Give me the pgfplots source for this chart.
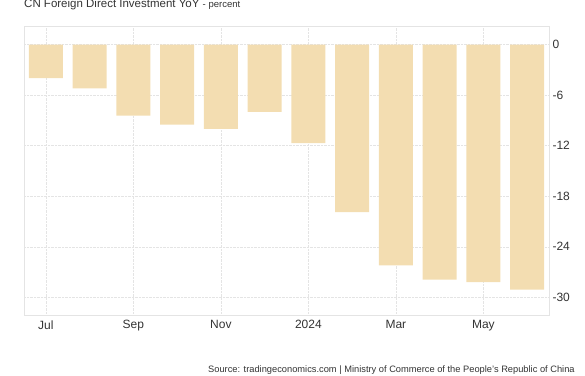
\documentclass[border=0pt]{standalone}
\usepackage{fontspec}
\setmainfont{Liberation Sans}
\usepackage{pgfplots}
\pgfplotsset{compat=1.18}
\definecolor{barc}{RGB}{243,221,177}
\definecolor{gridc}{RGB}{228,228,228}
\definecolor{txt}{RGB}{51,51,51}
\begin{document}
\begin{tikzpicture}
\path[use as bounding box] (0pt,0pt) rectangle (585pt,375pt);
\begin{axis}[
  at={(24pt,60pt)}, anchor=south west, scale only axis,
  width=525pt, height=289pt,
  xmin=-0.5, xmax=11.5, ymin=-32.1, ymax=2.2,
  ybar, bar width=34pt, bar shift=0pt,
  xtick={0,2,4,6,8,10}, xticklabels={Jul,Sep,Nov,2024,Mar,May},
  ytick={0,-6,-12,-18,-24,-30},
  yticklabel pos=right,
  major tick length=0pt,
  axis line style={gridc},
  grid=major, major grid style={gridc, densely dotted},
  tick label style={font=\fontsize{12}{14}\selectfont, text=txt},
  /pgf/number format/assume math mode=true,
  yticklabel style={anchor=west, xshift=0pt},
  xticklabel style={yshift=-2pt},
]
\addplot[fill=barc, draw=none] coordinates {
(0,-4.0) (1,-5.2) (2,-8.45) (3,-9.5) (4,-10.0) (5,-8.0)
(6,-11.7) (7,-19.9) (8,-26.2) (9,-27.9) (10,-28.2) (11,-29.1)};
\end{axis}
\node[anchor=base west, inner sep=0pt, text=txt, font=\fontsize{11.5}{13}\selectfont] at (24pt,367pt) {CN Foreign Direct Investment YoY {\fontsize{9.5}{11}\selectfont - percent}};
\node[anchor=base west, inner sep=0pt, text=txt, font=\fontsize{9.3}{11}\selectfont] at (208pt,2.5pt) {Source: tradingeconomics.com | Ministry of Commerce of the People's Republic of China};
\end{tikzpicture}
\end{document}
